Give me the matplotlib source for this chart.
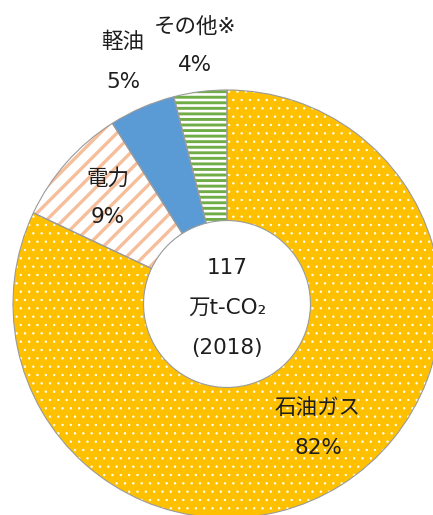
import matplotlib
matplotlib.use("Agg")
import matplotlib.pyplot as plt

plt.rcParams['font.family'] = ['DejaVu Sans', 'Noto Sans CJK JP']

# data
labels = ['石油ガス', '電力', '軽油', 'その他※']
values = [82, 9, 5, 4]
total = 117
year = 2018

face = ['#FFC000', 'white', '#5B9BD5', 'white']
hatch_col = ['white', '#F6BE9B', '#5B9BD5', '#70AD47']
hatches = ['..', '//', None, '---']
hatch_lw = [0.5, 2.4, 1.0, 2.1]

fig = plt.figure(figsize=(4.33, 5.15), dpi=100)
ax = fig.add_axes([13 / 433, -3 / 515, 428 / 433, 428 / 515])

wedges, _ = ax.pie(values, colors=face, startangle=90, counterclock=False,
                   radius=1, wedgeprops=dict(width=0.61, linewidth=0))
for w, hc, h, lw in zip(wedges, hatch_col, hatches, hatch_lw):
    w.set_edgecolor(hc)
    w.set_linewidth(0)
    if h:
        w.set_hatch(h)
        if hasattr(w, 'set_hatch_linewidth'):
            w.set_hatch_linewidth(lw)

# outlines
ax.pie(values, colors=['none'] * 4, startangle=90, counterclock=False,
       radius=1, wedgeprops=dict(width=0.61, linewidth=0.8, edgecolor='#9a9a9a'))

ax.set_xlim(-1, 1)
ax.set_ylim(-1, 1)
ax.set_aspect('equal')
ax.axis('off')

# label positions (x, y of name, y of percent)
label_pos = [(0.425, -0.486, -0.673),
             (-0.556, 0.589, 0.407),
             (-0.486, 1.224, 1.037),
             (-0.150, 1.294, 1.117)]
txt = dict(ha='center', va='center', fontsize=15.5, color='#1e1e1e')
for name, v, (x, y1, y2) in zip(labels, values, label_pos):
    ax.text(x, y1, name, **txt)
    ax.text(x, y2, f'{v}%', **txt)

ax.text(0, 0.168, f'{total}', **txt)
ax.text(0, -0.019, '万t-CO₂', **txt)
ax.text(0, -0.206, f'({year})', **txt)

fig.savefig('out.png', dpi=100)
